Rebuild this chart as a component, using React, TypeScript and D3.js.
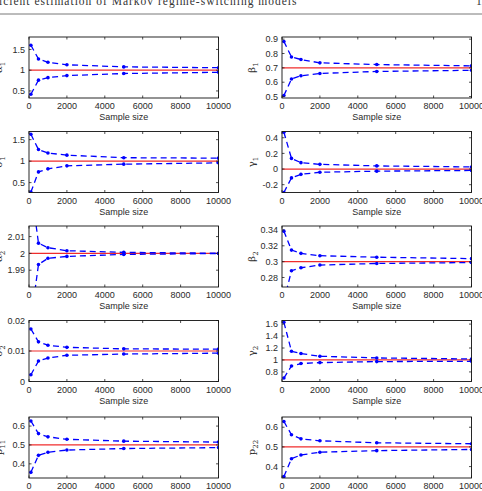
import React from "react";
import * as d3 from "d3";

// Sample sizes at which the estimator was evaluated
const sampleSizes = [100, 500, 1000, 2000, 5000, 10000];
const xTicks = [0, 2000, 4000, 6000, 8000, 10000];

// Upper / lower bands for each parameter and its true value
const alpha1Upper = [1.6, 1.27, 1.19, 1.13, 1.08, 1.06];
const alpha1Lower = [0.42, 0.76, 0.82, 0.87, 0.92, 0.95];
const alpha1True = 1;

const beta1Upper = [0.884, 0.776, 0.758, 0.735, 0.723, 0.714];
const beta1Lower = [0.507, 0.622, 0.645, 0.661, 0.675, 0.683];
const beta1True = 0.7;

const sigma1Upper = [1.625, 1.27, 1.19, 1.14, 1.08, 1.07];
const sigma1Lower = [0.28, 0.75, 0.82, 0.89, 0.93, 0.96];
const sigma1True = 1;

const gamma1Upper = [0.47, 0.136, 0.082, 0.06, 0.04, 0.027];
const gamma1Lower = [-0.3, -0.113, -0.068, -0.041, -0.027, -0.018];
const gamma1True = 0;

const alpha2Upper = [2.04, 2.0061, 2.0034, 2.0016, 2.0006, 2.0001];
const alpha2Lower = [1.96, 1.9934, 1.9971, 1.9982, 1.9994, 1.9999];
const alpha2True = 2;

const beta2Upper = [0.3385, 0.3146, 0.3105, 0.3075, 0.3056, 0.3038];
const beta2Lower = [0.25, 0.2886, 0.2923, 0.2957, 0.2977, 0.2989];
const beta2True = 0.3;

const sigma2Upper = [0.0172, 0.013, 0.0119, 0.0112, 0.0107, 0.0106];
const sigma2Lower = [0.0022, 0.0067, 0.0077, 0.0086, 0.009, 0.0093];
const sigma2True = 0.01;

const gamma2Upper = [1.63, 1.146, 1.107, 1.062, 1.034, 1.017];
const gamma2Lower = [0.698, 0.9, 0.94, 0.956, 0.973, 0.978];
const gamma2True = 1;

const p11Upper = [0.627, 0.56, 0.543, 0.53, 0.52, 0.515];
const p11Lower = [0.355, 0.445, 0.461, 0.473, 0.481, 0.486];
const p11True = 0.5;

const p22Upper = [0.629, 0.562, 0.541, 0.531, 0.521, 0.516];
const p22Lower = [0.35, 0.44, 0.459, 0.473, 0.481, 0.487];
const p22True = 0.5;

// Y-axis tick labels per parameter
const alpha1Ticks = [0.5, 1, 1.5];
const beta1Ticks = [0.5, 0.6, 0.7, 0.8, 0.9];
const sigma1Ticks = [0.5, 1, 1.5];
const gamma1Ticks = [-0.2, 0, 0.2, 0.4];
const alpha2Ticks = [1.99, 2, 2.01];
const beta2Ticks = [0.28, 0.3, 0.32, 0.34];
const sigma2Ticks = [0, 0.01, 0.02];
const gamma2Ticks = [0.8, 1, 1.2, 1.4, 1.6];
const p11Ticks = [0.4, 0.5, 0.6];
const p22Ticks = [0.4, 0.5, 0.6];

type Panel = {
  id: string;
  symbol: string;
  sub: string;
  upper: number[];
  lower: number[];
  truth: number;
  ticks: number[];
  domain: [number, number];
  col: number;
  row: number;
};

const panels: Panel[] = [
  { id: "a1", symbol: "α", sub: "1", upper: alpha1Upper, lower: alpha1Lower, truth: alpha1True, ticks: alpha1Ticks, domain: [0.33, 1.8], col: 0, row: 0 },
  { id: "b1", symbol: "β", sub: "1", upper: beta1Upper, lower: beta1Lower, truth: beta1True, ticks: beta1Ticks, domain: [0.49, 0.915], col: 1, row: 0 },
  { id: "s1", symbol: "σ", sub: "1", upper: sigma1Upper, lower: sigma1Lower, truth: sigma1True, ticks: sigma1Ticks, domain: [0.27, 1.69], col: 0, row: 1 },
  { id: "g1", symbol: "γ", sub: "1", upper: gamma1Upper, lower: gamma1Lower, truth: gamma1True, ticks: gamma1Ticks, domain: [-0.3, 0.48], col: 1, row: 1 },
  { id: "a2", symbol: "α", sub: "2", upper: alpha2Upper, lower: alpha2Lower, truth: alpha2True, ticks: alpha2Ticks, domain: [1.98, 2.0163], col: 0, row: 2 },
  { id: "b2", symbol: "β", sub: "2", upper: beta2Upper, lower: beta2Lower, truth: beta2True, ticks: beta2Ticks, domain: [0.268, 0.345], col: 1, row: 2 },
  { id: "s2", symbol: "σ", sub: "2", upper: sigma2Upper, lower: sigma2Lower, truth: sigma2True, ticks: sigma2Ticks, domain: [0, 0.02], col: 0, row: 3 },
  { id: "g2", symbol: "γ", sub: "2", upper: gamma2Upper, lower: gamma2Lower, truth: gamma2True, ticks: gamma2Ticks, domain: [0.64, 1.66], col: 1, row: 3 },
  { id: "p11", symbol: "p", sub: "11", upper: p11Upper, lower: p11Lower, truth: p11True, ticks: p11Ticks, domain: [0.325, 0.648], col: 0, row: 4 },
  { id: "p22", symbol: "p", sub: "22", upper: p22Upper, lower: p22Lower, truth: p22True, ticks: p22Ticks, domain: [0.342, 0.652], col: 1, row: 4 },
];

const W = 482;
const H = 491;
const colX = [29, 282];
const plotW = 189.5;
const rowY = [37, 131.5, 226, 320.5, 417];
const plotH = 61;

const FONT = "'Liberation Sans', Arial, Helvetica, sans-serif";
const TEXT = "#2a2a2a";
const BLUE = "#0000ff";
const RED = "#f02c2c";

function PanelView({ p }: { p: Panel }) {
  const x0 = colX[p.col];
  const y0 = rowY[p.row];
  const x = d3.scaleLinear().domain([0, 10000]).range([x0, x0 + plotW]);
  const y = d3.scaleLinear().domain(p.domain).range([y0 + plotH, y0]);
  const line = d3
    .line<number>()
    .x((_, i) => x(sampleSizes[i]))
    .y((v) => y(v));
  const clipId = `clip-${p.id}`;
  const tickLen = 2.5;
  return (
    <g>
      <defs>
        <clipPath id={clipId}>
          <rect x={x0} y={y0} width={plotW} height={plotH} />
        </clipPath>
      </defs>
      <rect x={x0} y={y0} width={plotW} height={plotH} fill="#fff" />
      <g clipPath={`url(#${clipId})`}>
        <line x1={x(0)} x2={x(10000)} y1={y(p.truth)} y2={y(p.truth)} stroke={RED} strokeWidth={1.2} />
        {[p.upper, p.lower].map((s, k) => (
          <g key={k}>
            <path d={line(s) || ""} fill="none" stroke={BLUE} strokeWidth={1.3} strokeDasharray="6,4" />
            {s.map((v, i) => (
              <circle key={i} cx={x(sampleSizes[i])} cy={y(v)} r={1.8} fill={BLUE} />
            ))}
          </g>
        ))}
      </g>
      {/* inward ticks on all four sides */}
      {xTicks.map((t) => (
        <g key={`xt${t}`}>
          <line x1={x(t)} x2={x(t)} y1={y0 + plotH} y2={y0 + plotH - tickLen} stroke="#222" strokeWidth={0.8} />
          <line x1={x(t)} x2={x(t)} y1={y0} y2={y0 + tickLen} stroke="#222" strokeWidth={0.8} />
          <text x={x(t)} y={y0 + plotH + 11} fontSize={9} fill={TEXT} textAnchor="middle" fontFamily={FONT}>
            {t}
          </text>
        </g>
      ))}
      {p.ticks.map((t) => (
        <g key={`yt${t}`}>
          <line x1={x0} x2={x0 + tickLen} y1={y(t)} y2={y(t)} stroke="#222" strokeWidth={0.8} />
          <line x1={x0 + plotW} x2={x0 + plotW - tickLen} y1={y(t)} y2={y(t)} stroke="#222" strokeWidth={0.8} />
          <text x={x0 - 4} y={y(t) + 3.2} fontSize={9} fill={TEXT} textAnchor="end" fontFamily={FONT}>
            {String(t)}
          </text>
        </g>
      ))}
      <rect x={x0} y={y0} width={plotW} height={plotH} fill="none" stroke="#111" strokeWidth={0.9} />
      <text x={x0 + plotW / 2} y={y0 + plotH + 22} fontSize={9} fill={TEXT} textAnchor="middle" fontFamily={FONT}>
        Sample size
      </text>
      <text
        transform={`translate(${x0 - 27},${y0 + plotH / 2}) rotate(-90)`}
        fontSize={10}
        fill={TEXT}
        textAnchor="middle"
        fontFamily="'DejaVu Serif', serif"
      >
        {p.symbol}
        <tspan fontSize={7} dy={3}>
          {p.sub}
        </tspan>
      </text>
    </g>
  );
}

export default function App() {
  return (
    <svg
      width={W}
      height={H}
      viewBox={`0 0 ${W} ${H}`}
      style={{ position: "absolute", left: 0, top: 0, background: "#fff" }}
    >
      <rect x={0} y={0} width={W} height={H} fill="#fff" />
      <text x={-1} y={5} fontSize={11.5} fill="#333" fontFamily="'Liberation Serif', 'DejaVu Serif', serif" letterSpacing={1.0}>
        icient estimation of Markov regime-switching models
      </text>
      <text x={476} y={5} fontSize={11.5} fill="#333" fontFamily="'Liberation Serif', 'DejaVu Serif', serif">
        1
      </text>
      <line x1={0} x2={W} y1={14} y2={14} stroke="#555" strokeWidth={0.8} />
      {panels.map((p) => (
        <PanelView key={p.id} p={p} />
      ))}
    </svg>
  );
}
